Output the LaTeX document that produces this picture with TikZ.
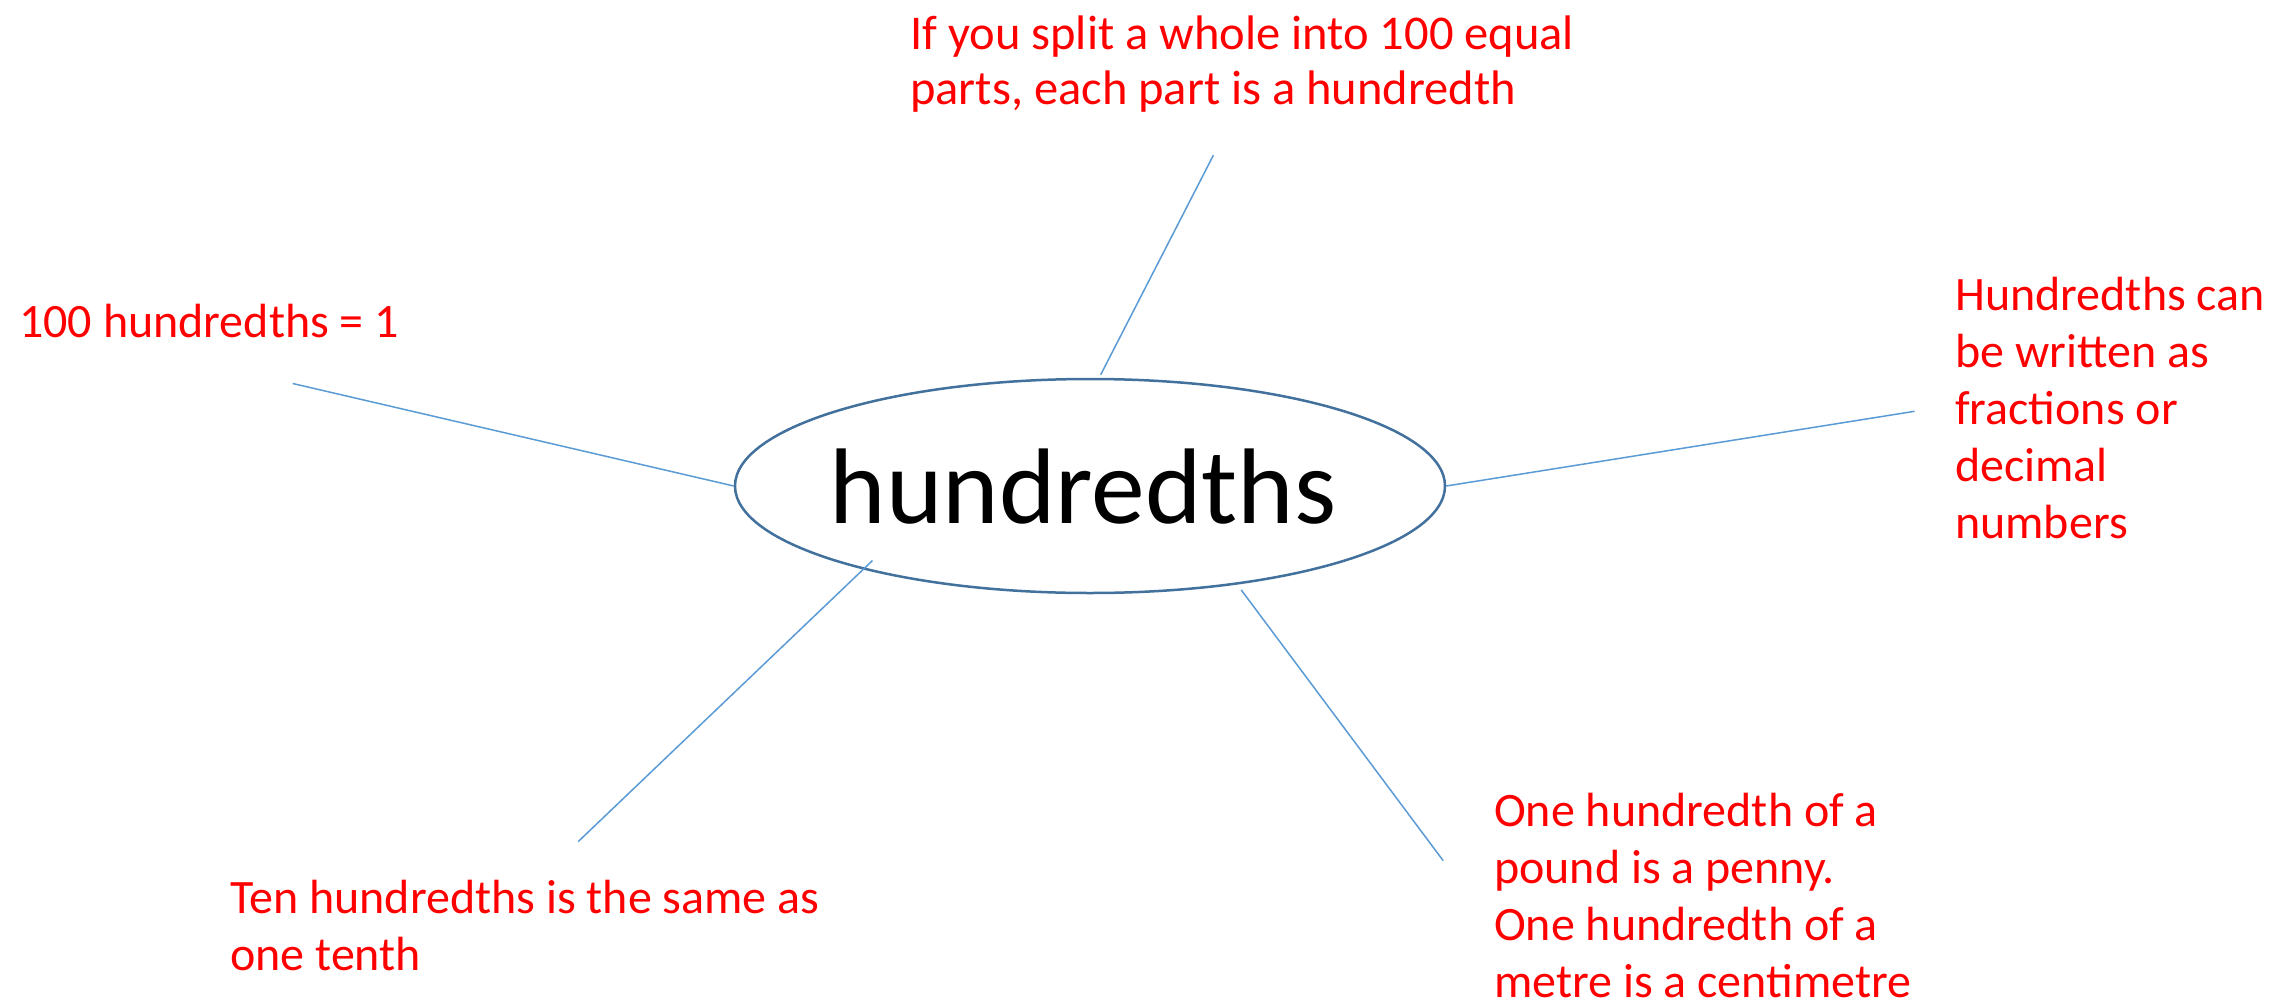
\documentclass[tikz,border=0pt]{standalone}
\usepackage{fontspec}
\setmainfont{Carlito}
\usetikzlibrary{shapes.geometric}
\definecolor{ellblue}{HTML}{41719C}
\definecolor{lineblue}{HTML}{5B9BD5}
\definecolor{txtred}{HTML}{FF0000}
\tikzset{
  hub/.style={ellipse, draw=ellblue, line width=2.5pt, fill=white, minimum width=710pt, minimum height=214pt, inner sep=0pt},
  hubtext/.style={anchor=base, inner sep=0pt, font=\fontsize{107.5}{129}\selectfont},
  fact/.style={anchor=base west, inner sep=0pt, text=txtred, font=\fontsize{48}{57}\selectfont},
  spoke/.style={draw=lineblue, line width=1.5pt}
}
\newcommand{\lines}[1]{\begin{tabular}[t]{@{}l@{}}#1\end{tabular}}
\begin{document}
\begin{tikzpicture}[x=1pt,y=-1pt]
\fill[white] (0,0) rectangle (2295,1001);
\useasboundingbox (0,0) rectangle (2295,1001);

\node[hub] (c) at (1090,486) {};
\node[hubtext] (ct) at (1083,523) {hundredths};

\node[fact, font=\fontsize{48.5}{55}\selectfont] (top) at (910,49) {\lines{If you split a whole into 100 equal\\parts, each part is a hundredth}};
\node[fact] (left) at (19,337) {100 hundredths = 1};
\node[fact] (right) at (1955,310) {\lines{Hundredths can\\be written as\\fractions or\\decimal\\numbers}};
\node[fact] (bl) at (230,913) {\lines{Ten hundredths is the same as\\one tenth}};
\node[fact] (br) at (1494,826) {\lines{One hundredth of a\\pound is a penny.\\One hundredth of a\\metre is a centimetre}};

\coordinate (t1) at (1100.7,374.7);
\coordinate (t2) at (1213.4,155.2);
\coordinate (l2) at (292.7,383.5);
\coordinate (r2) at (1914.5,411.3);
\coordinate (bl1) at (872.4,560.6);
\coordinate (bl2) at (578.2,841.6);
\coordinate (br1) at (1241.2,589.9);
\coordinate (br2) at (1443.2,860.7);

\draw[spoke] (t1) -- (t2);
\draw[spoke] (c.west) -- (l2);
\draw[spoke] (c.east) -- (r2);
\draw[spoke] (bl1) -- (bl2);
\draw[spoke] (br1) -- (br2);
\end{tikzpicture}
\end{document}
